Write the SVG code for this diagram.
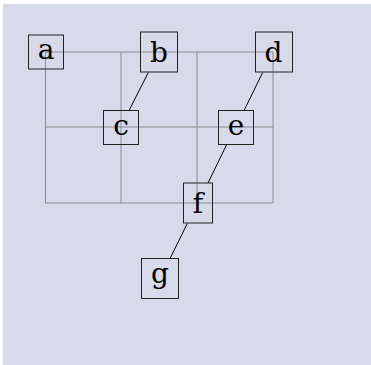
<svg xmlns="http://www.w3.org/2000/svg" width="371" height="365" viewBox="0 0 371 365">
  <style>
    .grid { stroke: #8c8c94; stroke-width: 1; fill: none; }
    .edge { stroke: #000; stroke-width: 1; fill: none; }
    .box { fill: none; stroke: #222; stroke-width: 1; }
    .lbl { font-family: "DejaVu Serif", "Liberation Serif", serif; font-size: 28px; fill: #000; text-anchor: middle; }
  </style>
  <rect x="3" y="4" width="368" height="361" fill="#d8d9ea"/>

  <!-- layout grid -->
  <g id="grid" class="grid">
    <path d="M45.5,52 H273 M45.5,127 H273 M45.5,203 H273"/>
    <path d="M45.5,52 V203 M121,52 V203 M197,52 V203 M273,52 V203"/>
  </g>

  <!-- connectors -->
  <g id="edges" class="edge">
    <line x1="148.3" y1="72.5" x2="129.3" y2="110"/>
    <line x1="262.7" y1="72.5" x2="244.3" y2="110"/>
    <line x1="226.7" y1="144.5" x2="208" y2="183"/>
    <line x1="187.3" y1="223.5" x2="170.3" y2="258"/>
  </g>

  <g id="node-a"><rect class="box" x="28.5" y="35" width="35" height="34"/><text class="lbl" x="46" y="59">a</text></g>
  <g id="node-b"><rect class="box" x="140.5" y="32" width="37" height="40"/><text class="lbl" x="159" y="61.5">b</text></g>
  <g id="node-c"><rect class="box" x="103.5" y="110.5" width="35" height="34"/><text class="lbl" x="121" y="134.5">c</text></g>
  <g id="node-d"><rect class="box" x="255.5" y="32" width="37" height="40"/><text class="lbl" x="273.5" y="61.5">d</text></g>
  <g id="node-e"><rect class="box" x="218.5" y="110.5" width="35" height="34"/><text class="lbl" x="236" y="134.5">e</text></g>
  <g id="node-f"><rect class="box" x="183.5" y="183" width="29" height="40"/><text class="lbl" x="198" y="212.5">f</text></g>
  <g id="node-g"><rect class="box" x="141.5" y="258.5" width="37" height="40"/><text class="lbl" x="160" y="282.5">g</text></g>
</svg>
